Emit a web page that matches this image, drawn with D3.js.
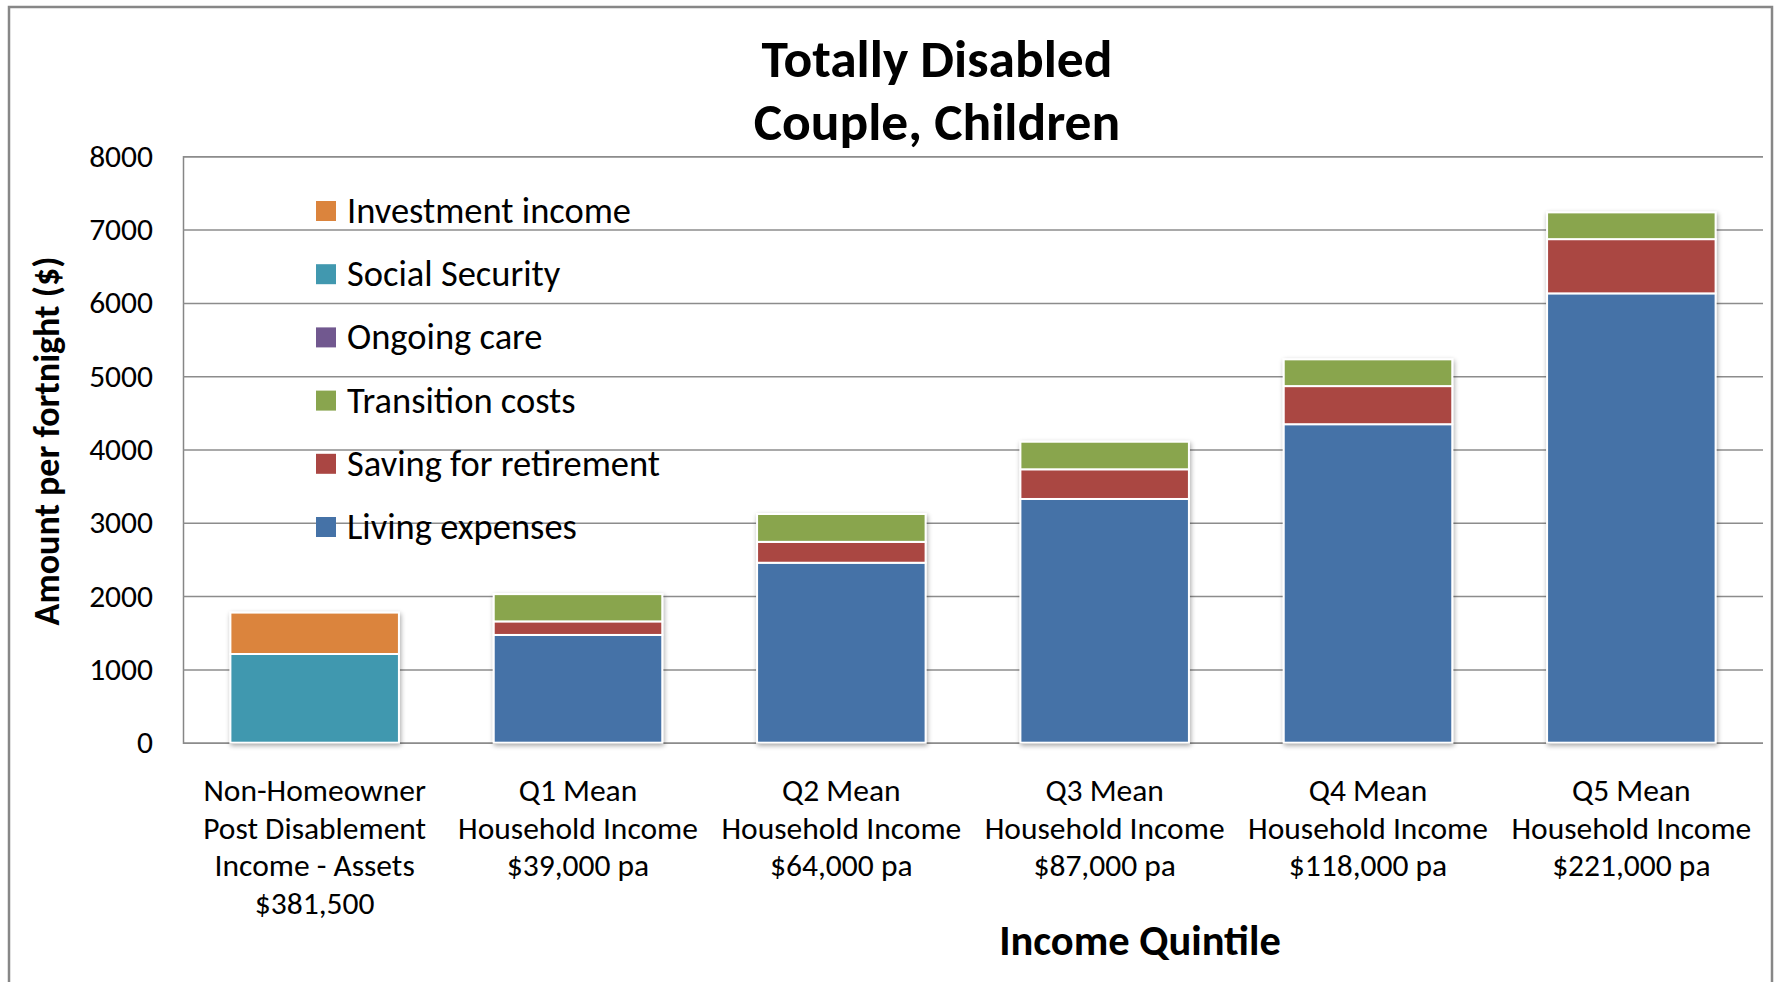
<!DOCTYPE html>
<html>
<head>
<meta charset="utf-8">
<script src="https://cdn.jsdelivr.net/npm/d3@7"></script>
<style>
  html, body { margin: 0; padding: 0; background: #fff; }
  svg { display: block; }
  text { font-family: Carlito, Calibri, Lato, "Open Sans", sans-serif; fill: #000; }
</style>
</head>
<body>
<svg id="chart" width="1775" height="982"></svg>
<script>
// ---------------- data ----------------
const categories = ["Non-Homeowner", "Q1", "Q2", "Q3", "Q4", "Q5"];
const categoryLabels = [
  ["Non-Homeowner", "Post Disablement", "Income - Assets", "$381,500"],
  ["Q1 Mean", "Household Income", "$39,000 pa"],
  ["Q2 Mean", "Household Income", "$64,000 pa"],
  ["Q3 Mean", "Household Income", "$87,000 pa"],
  ["Q4 Mean", "Household Income", "$118,000 pa"],
  ["Q5 Mean", "Household Income", "$221,000 pa"]
];
const livingExpenses      = [0, 1470, 2455, 3325, 4345, 6130];
const savingForRetirement = [0, 185, 285, 405, 520, 740];
const transitionCosts     = [0, 372, 380, 376, 365, 365];
const ongoingCare         = [0, 0, 0, 0, 0, 0];
const socialSecurity      = [1210, 0, 0, 0, 0, 0];
const investmentIncome    = [565, 0, 0, 0, 0, 0];

const seriesNames = ["Living expenses", "Saving for retirement", "Transition costs",
                     "Ongoing care", "Social Security", "Investment income"];
const seriesColors = ["#4572A7", "#AA4643", "#89A54E", "#71588F", "#4198AF", "#DB843D"];
const yTicks = [0, 1000, 2000, 3000, 4000, 5000, 6000, 7000, 8000];
const titleLines = ["Totally Disabled", "Couple, Children"];
const yTitle = "Amount per fortnight ($)";
const xTitle = "Income Quintile";

// ---------------- layout ----------------
const svg = d3.select("#chart");
const plot = { left: 183, right: 1763, top: 156.3, bottom: 742.7 };

const seriesValues = [livingExpenses, savingForRetirement, transitionCosts,
                      ongoingCare, socialSecurity, investmentIncome];
const rows = categories.map((c, i) => {
  const r = { category: c };
  seriesNames.forEach((s, k) => r[s] = seriesValues[k][i]);
  return r;
});
const stacked = d3.stack().keys(seriesNames)(rows);

const x = d3.scaleBand().domain(categories).range([plot.left, plot.right])
  .paddingInner(0.36).paddingOuter(0.18);
const y = d3.scaleLinear().domain([0, 8000]).range([plot.bottom, plot.top]);
const color = d3.scaleOrdinal().domain(seriesNames).range(seriesColors);

// outer border
svg.append("rect").attr("x", 9).attr("y", 7).attr("width", 1763).attr("height", 1000)
  .attr("fill", "#fff").attr("stroke", "#878787").attr("stroke-width", 2.5);

// shadow filter
const defs = svg.append("defs");
const f = defs.append("filter").attr("id", "shadow")
  .attr("x", "-10%").attr("y", "-10%").attr("width", "130%").attr("height", "130%");
f.append("feGaussianBlur").attr("in", "SourceAlpha").attr("stdDeviation", 2.5).attr("result", "b");
f.append("feOffset").attr("in", "b").attr("dx", 1).attr("dy", 1.5).attr("result", "o");
f.append("feComponentTransfer").attr("in", "o").attr("result", "s")
  .append("feFuncA").attr("type", "linear").attr("slope", 0.35);
const fm = f.append("feMerge");
fm.append("feMergeNode").attr("in", "s");
fm.append("feMergeNode").attr("in", "SourceGraphic");

// gridlines
const yAxis = d3.axisLeft(y).tickValues(yTicks).tickSize(-(plot.right - plot.left))
  .tickPadding(30).tickFormat(d3.format("d"));
const gy = svg.append("g").attr("transform", `translate(${plot.left},0)`).call(yAxis);
gy.select(".domain").attr("stroke", "#868686").attr("stroke-width", 1.5);
gy.selectAll(".tick line").attr("stroke", "#8c8c8c").attr("stroke-width", 1.5);
gy.selectAll(".tick text").attr("font-size", 31.5).attr("fill", "#000")
  .style("font-family", "Carlito, Calibri, Lato, sans-serif");

// bars
const barGroups = svg.append("g").selectAll("g.bar")
  .data(categories).join("g").attr("class", "bar").attr("filter", "url(#shadow)");
barGroups.each(function (cat, i) {
  const g = d3.select(this);
  stacked.forEach(layer => {
    const d = layer[i];
    if (d[1] - d[0] <= 0) return;
    g.append("rect")
      .attr("x", x(cat))
      .attr("width", x.bandwidth())
      .attr("y", y(d[1]))
      .attr("height", y(d[0]) - y(d[1]))
      .attr("fill", color(layer.key))
      .attr("stroke", "#fff")
      .attr("stroke-width", 2);
  });
});

// x labels
const xl = svg.append("g");
categories.forEach((c, i) => {
  const t = xl.append("text").attr("text-anchor", "middle").attr("font-size", 31.5)
    .attr("x", x(c) + x.bandwidth() / 2).attr("y", 801);
  categoryLabels[i].forEach((line, j) => {
    t.append("tspan").attr("x", x(c) + x.bandwidth() / 2).attr("dy", j === 0 ? 0 : 37.7).text(line);
  });
});

// title
const tt = svg.append("text").attr("text-anchor", "middle").attr("font-weight", "bold")
  .attr("font-size", 53.5).attr("x", 937).attr("y", 77);
titleLines.forEach((l, j) => tt.append("tspan").attr("x", 937).attr("dy", j ? 63 : 0).text(l));

// axis titles
svg.append("text").attr("text-anchor", "middle").attr("font-weight", "bold").attr("font-size", 36)
  .attr("transform", "translate(59,441) rotate(-90)").text(yTitle);
svg.append("text").attr("text-anchor", "middle").attr("font-weight", "bold").attr("font-size", 42.5)
  .attr("x", 1140).attr("y", 955).text(xTitle);

// legend
const legendOrder = seriesNames.slice().reverse();
const lg = svg.append("g").selectAll("g").data(legendOrder).join("g")
  .attr("transform", (d, i) => `translate(316,${211 + i * 63.2})`);
lg.append("rect").attr("x", 0).attr("y", -10).attr("width", 20).attr("height", 20)
  .attr("fill", d => color(d));
lg.append("text").attr("x", 31).attr("y", 12).attr("font-size", 36.5).text(d => d);
</script>
</body>
</html>
